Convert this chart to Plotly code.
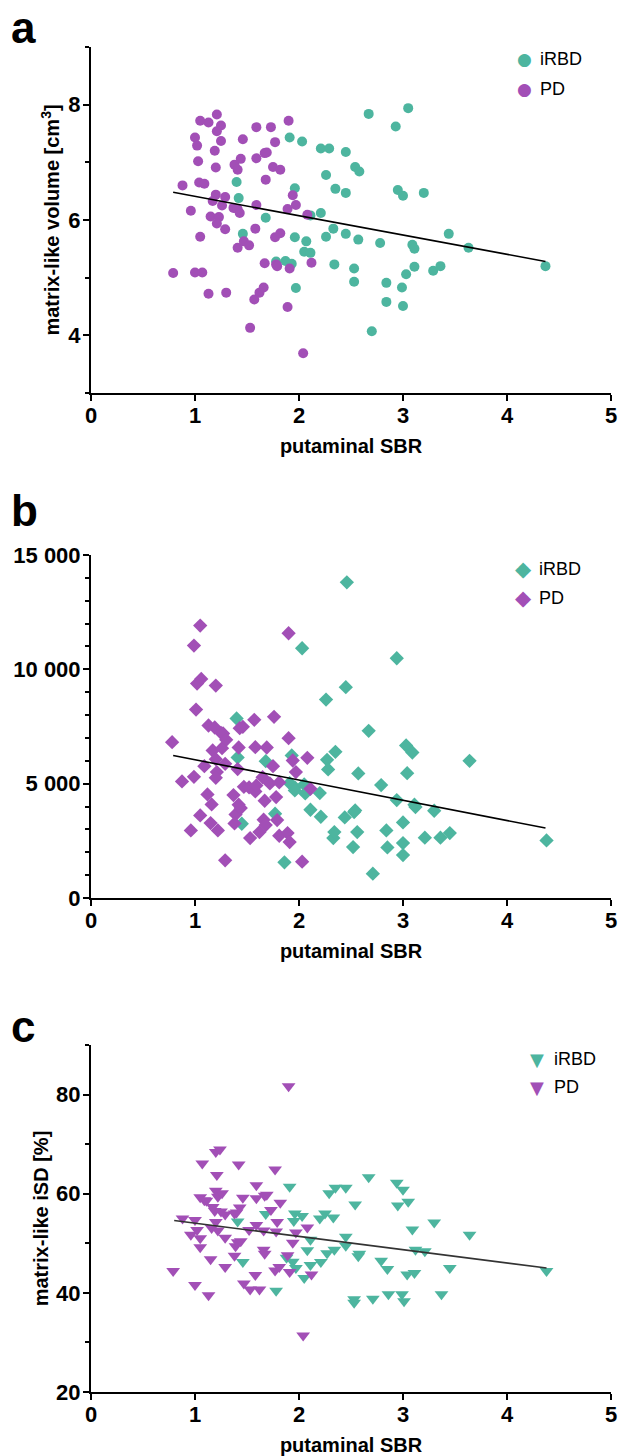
import plotly.graph_objects as go

# ---------------- data ----------------
# Panel a: matrix-like volume [cm3] vs putaminal SBR
a_irbd_x = [1.40, 1.42, 1.46, 1.68, 1.78, 1.87, 1.93, 1.91, 2.03, 1.96, 1.96, 1.97, 2.07, 2.05,
            2.11, 2.11, 2.21, 2.21, 2.29, 2.26, 2.35, 2.45, 2.45, 2.33, 2.26, 2.45, 2.34, 2.54,
            2.58, 2.57, 2.53, 2.53, 2.67, 2.70, 2.78, 2.84, 2.84, 2.93, 3.05, 2.95, 3.00, 3.20,
            2.99, 3.00, 3.03, 3.09, 3.11, 3.11, 3.29, 3.36, 3.44, 3.63, 4.37]
a_irbd_y = [6.66, 6.38, 5.76, 6.04, 5.28, 5.29, 5.24, 7.43, 7.36, 6.55, 5.70, 4.82, 5.63, 5.45,
            5.43, 6.08, 6.12, 7.24, 7.24, 6.78, 6.54, 7.18, 6.47, 5.85, 5.71, 5.76, 5.23, 6.92,
            6.84, 5.66, 5.16, 4.93, 7.84, 4.07, 5.60, 4.91, 4.58, 7.62, 7.94, 6.52, 6.42, 6.47,
            4.83, 4.51, 5.06, 5.57, 5.50, 5.19, 5.12, 5.20, 5.76, 5.52, 5.20]
a_pd_x = [0.79, 0.88, 0.96, 1.00, 1.02, 1.03, 1.05, 1.04, 1.09, 1.05, 1.00, 1.07, 1.13, 1.21,
          1.25, 1.21, 1.25, 1.19, 1.20, 1.20, 1.17, 1.26, 1.29, 1.15, 1.23, 1.21, 1.29, 1.13,
          1.30, 1.38, 1.41, 1.44, 1.46, 1.37, 1.41, 1.43, 1.41, 1.47, 1.52, 1.53, 1.57, 1.62,
          1.66, 1.59, 1.59, 1.67, 1.69, 1.68, 1.59, 1.58, 1.67, 1.73, 1.77, 1.75, 1.82, 1.78,
          1.79, 1.77, 1.82, 1.90, 1.94, 1.97, 1.89, 1.91, 1.89, 2.08, 2.12, 2.04]
a_pd_y = [5.08, 6.60, 6.16, 7.43, 7.29, 7.02, 7.72, 6.65, 6.63, 5.71, 5.09, 5.09, 7.69, 7.83,
          7.64, 7.54, 7.37, 7.20, 6.91, 6.44, 6.33, 6.25, 6.40, 6.06, 6.05, 5.94, 5.84, 4.72,
          4.74, 6.96, 6.87, 7.06, 7.40, 6.21, 6.19, 6.12, 5.52, 5.63, 5.56, 4.13, 4.62, 4.74,
          4.83, 7.61, 7.07, 7.16, 7.17, 6.70, 6.26, 5.85, 5.25, 7.61, 7.35, 6.92, 6.87, 5.23,
          5.20, 5.70, 5.77, 7.72, 6.43, 6.26, 6.19, 5.16, 4.49, 6.09, 5.26, 3.69]
a_fit_x = [0.79, 4.37]
a_fit_y = [6.48, 5.28]

# Panel b
b_irbd_x = [1.40, 1.41, 1.45, 1.68, 1.77, 1.86, 1.93, 1.91, 1.96, 1.96, 2.03, 2.05, 2.06, 2.11,
            2.20, 2.21, 2.26, 2.27, 2.28, 2.33, 2.34, 2.35, 2.44, 2.45, 2.46, 2.52, 2.53, 2.54,
            2.56, 2.57, 2.67, 2.71, 2.79, 2.84, 2.85, 2.94, 2.94, 3.00, 3.00, 3.00, 3.03, 3.04,
            3.09, 3.11, 3.12, 3.21, 3.30, 3.36, 3.45, 3.64, 4.38]
b_irbd_y = [7849, 6145, 3247, 5985, 3684, 1558, 6233, 5024, 4835, 4704, 10922, 4966, 4573, 3859,
            4587, 3553, 8679, 6043, 5621, 2621, 2883, 6393, 3524, 9218, 13805, 2228, 3757, 3830,
            2883, 5446, 7310, 1063, 4937, 2956, 2213, 10485, 4281, 3306, 2403, 1879, 6670, 5461,
            6364, 4077, 3976, 2636, 3815, 2636, 2840, 6000, 2519]
b_pd_x = [0.78, 0.875, 0.96, 0.99, 0.99, 1.01, 1.02, 1.06, 1.05, 1.05, 1.09, 1.12, 1.15, 1.16,
          1.13, 1.17, 1.19, 1.20, 1.20, 1.21, 1.20, 1.22, 1.25, 1.26, 1.27, 1.30, 1.29, 1.29,
          1.37, 1.39, 1.38, 1.41, 1.42, 1.42, 1.44, 1.43, 1.46, 1.47, 1.53, 1.52, 1.57, 1.58,
          1.58, 1.59, 1.62, 1.65, 1.67, 1.66, 1.68, 1.69, 1.75, 1.72, 1.76, 1.78, 1.79, 1.81,
          1.81, 1.89, 1.91, 1.90, 1.90, 1.94, 1.97, 2.03, 2.08, 2.11]
b_pd_y = [6815, 5097, 2956, 5301, 11038, 8242, 9378, 9582, 11912, 3611, 5767, 4529, 3277, 4092,
          7543, 6451, 7456, 9291, 6073, 5505, 5257, 2956, 7223, 6553, 7194, 6917, 5869, 1646,
          4500, 3655, 3262, 5636, 6582, 4077, 3932, 7427, 7485, 4864, 2621, 4835, 7791, 6597,
          4660, 4922, 2883, 5286, 4252, 3422, 3189, 6582, 5767, 5010, 7922, 4412, 3408, 5053,
          2723, 2840, 2446, 6990, 11577, 6014, 5505, 1587, 6131, 4776]
b_fit_x = [0.79, 4.37]
b_fit_y = [6233, 3058]

# Panel c
c_irbd_x = [1.41, 1.46, 1.68, 1.78, 1.88, 1.91, 1.94, 1.97, 1.96, 1.95, 2.03, 2.05, 2.11, 2.11,
            2.08, 2.20, 2.21, 2.25, 2.27, 2.29, 2.33, 2.34, 2.35, 2.45, 2.45, 2.45, 2.54, 2.53,
            2.53, 2.57, 2.58, 2.67, 2.71, 2.79, 2.85, 2.86, 2.94, 2.95, 3.00, 2.99, 3.01, 3.05,
            3.04, 3.09, 3.11, 3.12, 3.21, 3.30, 3.37, 3.45, 3.64, 4.38]
c_irbd_y = [54.4, 46.2, 55.9, 40.4, 47.1, 61.4, 46.3, 45.0, 56.0, 54.5, 55.5, 43.0, 50.7, 45.6,
            48.6, 55.0, 46.2, 56.0, 48.0, 60.1, 55.2, 48.7, 61.2, 61.2, 51.3, 49.5, 57.8, 38.7,
            38.0, 47.4, 47.9, 63.3, 38.8, 46.5, 44.8, 39.7, 62.2, 57.6, 60.8, 39.7, 38.3, 58.4,
            43.7, 52.8, 44.0, 48.7, 48.4, 54.2, 39.7, 45.0, 51.7, 44.4]
c_pd_x = [0.79, 0.88, 0.96, 1.00, 1.00, 1.02, 1.05, 1.05, 1.05, 1.07, 1.09, 1.11, 1.13, 1.15,
          1.17, 1.16, 1.19, 1.20, 1.21, 1.20, 1.24, 1.20, 1.22, 1.26, 1.22, 1.25, 1.29, 1.29,
          1.29, 1.38, 1.42, 1.40, 1.43, 1.46, 1.39, 1.41, 1.44, 1.38, 1.47, 1.53, 1.52, 1.58,
          1.59, 1.59, 1.59, 1.62, 1.66, 1.67, 1.66, 1.67, 1.69, 1.73, 1.77, 1.78, 1.79, 1.77,
          1.81, 1.82, 1.90, 1.89, 1.91, 1.94, 1.97, 2.08, 2.12, 2.04]
c_pd_y = [44.4, 55.0, 51.7, 54.7, 41.6, 52.7, 51.0, 49.2, 59.3, 66.1, 58.7, 58.6, 39.5, 46.8,
          57.3, 53.1, 56.5, 54.3, 63.8, 68.4, 68.9, 60.6, 59.4, 60.1, 52.6, 56.4, 55.8, 51.1,
          45.2, 56.0, 65.9, 56.2, 57.2, 59.2, 49.4, 50.2, 50.4, 47.5, 41.9, 40.7, 52.7, 43.6,
          53.7, 61.7, 59.1, 40.7, 48.7, 47.9, 52.6, 59.6, 59.8, 56.7, 64.9, 52.4, 54.3, 44.5,
          45.2, 58.2, 81.7, 47.6, 44.2, 50.1, 52.2, 53.2, 43.7, 31.4]
c_fit_x = [0.80, 4.38]
c_fit_y = [54.6, 45.0]

x_ticks = [0, 1, 2, 3, 4, 5]
a_yticks = [4, 6, 8]
b_yticks = [0, 5000, 10000, 15000]
b_yticklabels = ["0", "5 000", "10 000", "15 000"]
c_yticks = [20, 40, 60, 80]
group_names = ["iRBD", "PD"]

# ---------------- styling ----------------
TEAL = "#4DB59F"
PURPLE = "#A24FB6"
FONT = "Liberation Sans, Arial, sans-serif"
W, H = 619, 1456


def fx(p):
    return p / W


def fy(p):
    return 1 - p / H


fig = go.Figure()

panels = [
    dict(ix=a_irbd_x, iy=a_irbd_y, px=a_pd_x, py=a_pd_y, fxv=a_fit_x, fyv=a_fit_y,
         symbol="circle", size=10, line_color="black", xa="x", ya="y", key="a",
         glyph="\u25CF", gsize=17, leg_mx=524, leg_tx=538, leg_y=[59, 89]),
    dict(ix=b_irbd_x, iy=b_irbd_y, px=b_pd_x, py=b_pd_y, fxv=b_fit_x, fyv=b_fit_y,
         symbol="diamond", size=11, line_color="black", xa="x2", ya="y2", key="b",
         glyph="\u25C6", gsize=21, leg_mx=523, leg_tx=537, leg_y=[569, 598]),
    dict(ix=c_irbd_x, iy=c_irbd_y, px=c_pd_x, py=c_pd_y, fxv=c_fit_x, fyv=c_fit_y,
         symbol="triangle-down", size=12, line_color="#333333", xa="x3", ya="y3", key="c",
         glyph="\u25BC", gsize=18, leg_mx=537, leg_tx=552, leg_y=[1059, 1087]),
]

for p in panels:
    fig.add_trace(go.Scatter(x=p["ix"], y=p["iy"], mode="markers", name=group_names[0],
                             marker=dict(symbol=p["symbol"], size=p["size"], color=TEAL),
                             xaxis=p["xa"], yaxis=p["ya"], showlegend=False))
    fig.add_trace(go.Scatter(x=p["px"], y=p["py"], mode="markers", name=group_names[1],
                             marker=dict(symbol=p["symbol"], size=p["size"], color=PURPLE),
                             xaxis=p["xa"], yaxis=p["ya"], showlegend=False))
    fig.add_trace(go.Scatter(x=p["fxv"], y=p["fyv"], mode="lines", showlegend=False,
                             line=dict(color=p["line_color"], width=1.6),
                             xaxis=p["xa"], yaxis=p["ya"]))
    # legend: coloured symbol + group name
    for name, col, ly in zip(group_names, [TEAL, PURPLE], p["leg_y"]):
        fig.add_annotation(text=p["glyph"], x=fx(p["leg_mx"]), y=fy(ly), xref="paper", yref="paper",
                           xanchor="center", yanchor="middle", showarrow=False,
                           font=dict(family="DejaVu Sans", size=p["gsize"], color=col))
        fig.add_annotation(text=name, x=fx(p["leg_tx"]), y=fy(ly), xref="paper", yref="paper",
                           xanchor="left", yanchor="middle", showarrow=False,
                           font=dict(family=FONT, size=18, color="black"))

common_axis = dict(showline=True, linewidth=2, linecolor="black", showgrid=False, zeroline=False,
                   ticks="outside", ticklen=6, tickwidth=2, tickcolor="black",
                   tickfont=dict(family=FONT, size=22, color="black", weight="bold"),
                   automargin=False, fixedrange=True)
xdom = [fx(91), fx(611)]
ydoms = {"a": [fy(393), fy(47)], "b": [fy(898), fy(555)], "c": [fy(1392), fy(1045)]}

xtitle = dict(text="putaminal SBR", font=dict(family=FONT, size=20, color="black", weight="bold"),
              standoff=12)

minor = dict(ticks="outside", ticklen=4, tickwidth=2, tickcolor="black")

fig.update_layout(
    width=W, height=H, margin=dict(l=0, r=0, t=0, b=0),
    plot_bgcolor="white", paper_bgcolor="white", showlegend=False,
    xaxis=dict(domain=xdom, range=[0, 5], tickvals=x_ticks, anchor="y", title=xtitle,
               ticklabelstandoff=-4, **common_axis),
    yaxis=dict(domain=ydoms["a"], range=[3, 9], tickvals=a_yticks, anchor="x",
               minor=dict(dtick=1, tick0=3, **minor), ticklabelstandoff=-2,
               title=dict(text="matrix-like volume [cm<sup>3</sup>]",
                          font=dict(family=FONT, size=20, color="black", weight="bold"), standoff=3),
               **common_axis),
    xaxis2=dict(domain=xdom, range=[0, 5], tickvals=x_ticks, anchor="y2", title=xtitle,
                ticklabelstandoff=-4, **common_axis),
    yaxis2=dict(domain=ydoms["b"], range=[0, 15000], tickvals=b_yticks, ticktext=b_yticklabels,
                anchor="x2", minor=dict(dtick=1000, tick0=0, **minor), ticklabelstandoff=-2,
                **common_axis),
    xaxis3=dict(domain=xdom, range=[0, 5], tickvals=x_ticks, anchor="y3", title=xtitle,
                ticklabelstandoff=-4, **common_axis),
    yaxis3=dict(domain=ydoms["c"], range=[20, 90], tickvals=c_yticks, anchor="x3",
                minor=dict(dtick=10, tick0=20, **minor), ticklabelstandoff=-2,
                title=dict(text="matrix-like iSD [%]",
                           font=dict(family=FONT, size=20, color="black", weight="bold"), standoff=2),
                **common_axis),
)

for letter, ypix in [("a", 27), ("b", 511), ("c", 1026)]:
    fig.add_annotation(text=letter, x=fx(9), y=fy(ypix), xref="paper", yref="paper",
                       xanchor="left", yanchor="middle", showarrow=False,
                       font=dict(family=FONT, size=44, color="black", weight="bold"))

fig.write_html("out.html", config={"displayModeBar": False},
               post_script="document.body.style.margin='0';")
